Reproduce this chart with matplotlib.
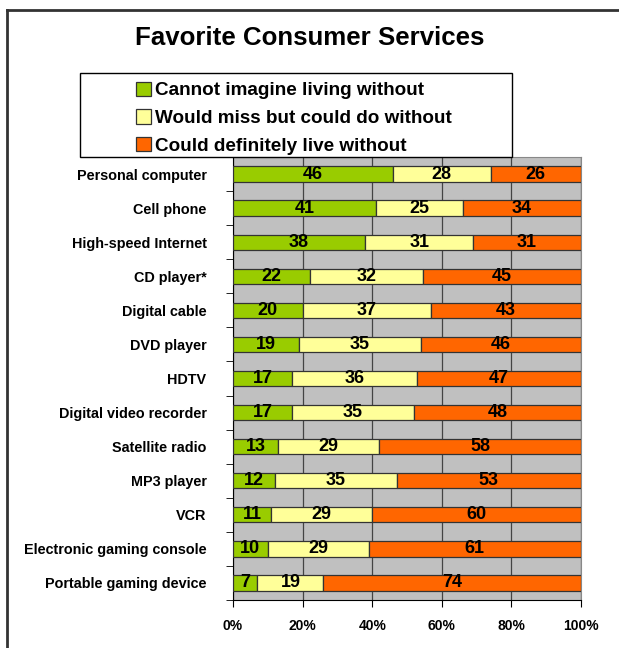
import matplotlib.pyplot as plt
import numpy as np
from matplotlib.lines import Line2D
from matplotlib.patches import Rectangle

plt.rcParams['font.family'] = ['Liberation Sans', 'DejaVu Sans']

categorias = ['Personal computer', 'Cell phone', 'High-speed Internet', 'CD player*',
              'Digital cable', 'DVD player', 'HDTV', 'Digital video recorder',
              'Satellite radio', 'MP3 player', 'VCR', 'Electronic gaming console',
              'Portable gaming device']
no_puede_vivir = [46, 41, 38, 22, 20, 19, 17, 17, 13, 12, 11, 10, 7]
extranaria = [28, 25, 31, 32, 37, 35, 36, 35, 29, 35, 29, 29, 19]
podria_vivir = [26, 34, 31, 45, 43, 46, 47, 48, 58, 53, 60, 61, 74]
series_nombres = ['Cannot imagine living without', 'Would miss but could do without',
                  'Could definitely live without']
colores = ['#99CC00', '#FFFF99', '#FF6600']

datos = np.array([no_puede_vivir, extranaria, podria_vivir], dtype=float)
porcentajes = datos / datos.sum(axis=0) * 100

fig = plt.figure(figsize=(6.19, 6.48), dpi=100)
ax = fig.add_axes([233 / 619, 1 - 600 / 648, 348 / 619, 443 / 648])
ax.set_facecolor('#C0C0C0')

y = np.arange(len(categorias))
izq = np.zeros(len(categorias))
barras = []
for i in range(3):
    b = ax.barh(y, porcentajes[i], left=izq, height=0.45, color=colores[i],
                edgecolor='#333333', linewidth=0.9, zorder=3, label=series_nombres[i])
    barras.append(b)
    for j in range(len(categorias)):
        ax.text(izq[j] + porcentajes[i][j] / 2, y[j], str(int(datos[i][j])),
                ha='center', va='center', fontsize=13, fontweight='bold',
                color='black', zorder=4)
    izq += porcentajes[i]

ax.set_xlim(0, 100)
ax.set_ylim(len(categorias) - 0.5, -0.5)
ax.set_xticks(np.arange(0, 101, 20))
ax.set_xticklabels([f'{v}%' for v in range(0, 101, 20)], fontsize=10, fontweight='bold')
ax.xaxis.grid(True, color='#444444', linewidth=0.9, zorder=0)
ax.set_axisbelow(True)

ax.set_yticks(y)
ax.set_yticklabels(categorias, fontsize=10.4, fontweight='bold')
ax.set_yticks(np.arange(-0.5, len(categorias), 1), minor=True)
ax.tick_params(axis='y', which='major', length=0, pad=19)
ax.tick_params(axis='y', which='minor', length=5, direction='out')
ax.tick_params(axis='x', length=5, direction='out', pad=9)

ax.spines['left'].set_color('black')
ax.spines['bottom'].set_color('black')
ax.spines['top'].set_color('#888888')
ax.spines['right'].set_color('#888888')

fig.text(310 / 619, 1 - 38 / 648, 'Favorite Consumer Services', ha='center', va='center',
         fontsize=18.6, fontweight='bold')

# caja de la leyenda
fig.add_artist(Rectangle((80 / 619, 1 - 157 / 648), 432 / 619, 84 / 648,
                         transform=fig.transFigure, facecolor='white',
                         edgecolor='black', linewidth=1, zorder=5))
leg = fig.legend(handles=barras, labels=series_nombres, loc='upper left',
                 bbox_to_anchor=(128 / 619, 1 - 74 / 648), frameon=False,
                 prop={'size': 13.6, 'weight': 'bold'}, handlelength=0.8,
                 handleheight=0.8, handletextpad=0.25, labelspacing=0.52,
                 borderaxespad=0)
leg.set_zorder(6)

# marco de la figura
fig.add_artist(Line2D([7 / 619, 7 / 619], [0, 1 - 10 / 648], transform=fig.transFigure,
                      color='#333333', linewidth=2))
fig.add_artist(Line2D([7 / 619, 1], [1 - 10 / 648, 1 - 10 / 648], transform=fig.transFigure,
                      color='#333333', linewidth=2))

fig.savefig('out.png', dpi=100)
